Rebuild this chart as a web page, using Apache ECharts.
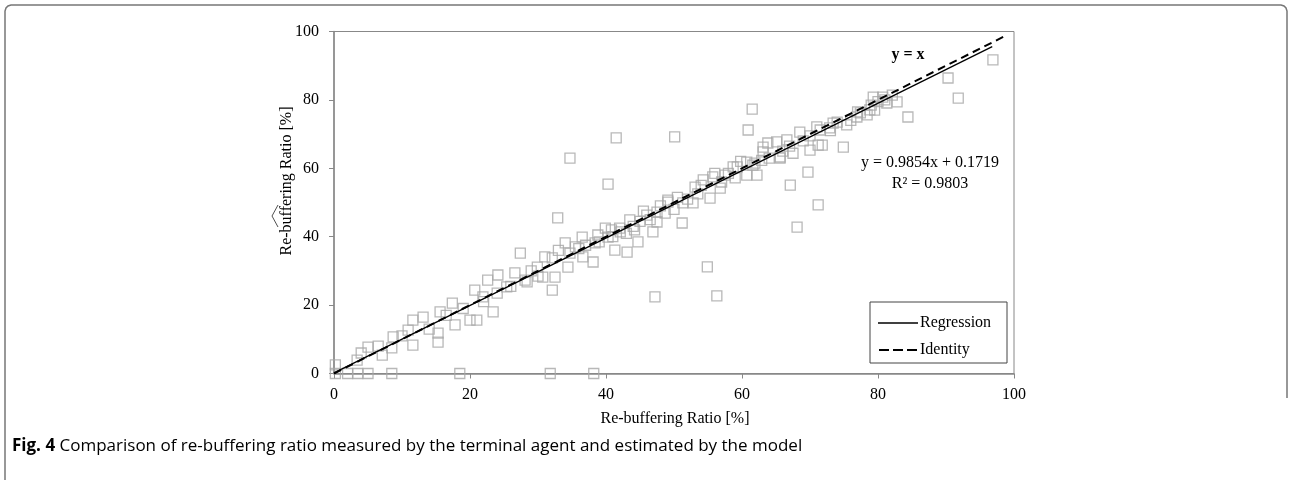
<!DOCTYPE html>
<html>
<head>
<meta charset="utf-8">
<script src="https://cdn.jsdelivr.net/npm/echarts@6/dist/echarts.min.js"></script>
<style>html,body{margin:0;padding:0;background:#fff;}#c{width:1291px;height:480px;}</style>
</head>
<body>
<div id="c"></div>
<script>
// Measured vs estimated re-buffering ratio [%] : [x, y]
const measuredEstimated = [
  [0.2,0],[2,0],[3.5,0],[5,0],[8.5,0],[18.5,0],[31.8,0],[38.2,0],[0.2,2.5],
  [3.4,3.9],[5,7.7],[7.1,5.4],[8.7,10.7],[8.5,7.5],[10.9,12.7],[11.6,8.3],[11.6,15.6],
  [13.1,16.5],[15.3,11.8],[15.3,9.2],[15.6,18],[17.4,20.6],[17.8,14.2],[20,15.6],
  [20.7,24.4],[21,15.6],[21.9,22.4],[23.4,18],[22.6,27.3],[24.1,28.8],[25.4,25.3],
  [26.6,29.4],[28.1,27.3],[4,6],[6.5,8],[10,11],[14,13],[16.5,17],[19,19],[22,21],
  [24,23.5],[26,25.5],[29,30],[30,28.5],
  [28.4,26.8],[29.9,31.1],[31,34.1],[30.7,28.2],[32.5,28.2],[32.1,33.8],[34.4,31.1],
  [34.7,35.2],[34,38.2],[36.5,39.9],[36.6,34.1],[38.1,32.6],[38.4,38.2],[39.9,42.5],
  [40.3,39.9],[41.3,36.1],[42.1,41.4],[43.1,35.5],[43.5,44.9],[44.7,38.5],[46,46.3],
  [46.9,41.4],[47.5,47.2],[49.1,50.1],[48.7,46.9],[51.3,49.9],[52.8,49.9],[53.1,54.5],
  [54.3,56.6],[55.3,51.3],[55.7,57.5],[56.8,54.2],[58.7,60.4],[59,57.2],[60.7,61.8],
  [61.6,60.9],[63.1,66.2],[62.2,58],
  [47.5,44.3],[49.1,50.7],[59.3,60.4],[60.7,58],[61.9,61.5],[63.1,64.8],[63.8,67.4],
  [65.1,67.7],[65.6,63.3],[66.6,68.3],[68.5,70.6],[70,65.3],[71.8,66.8],[71,72.1],
  [73.4,73.2],[75.4,72.7],[76.9,75],[78.8,77.1],[81.3,79.1],[82.1,81.4],[80.7,80.8],
  [79.3,80.8],[82.8,79.4],[77.4,76.2],[78.4,75.6],[72.9,71.8],[71.5,71.2],[71.2,66.8],
  [67.5,64.4],[62.9,62.3],[65.6,63],
  [44,43],[45,44.5],[46.5,45],[50,48],[52,51],[53.5,52.5],[57,56],[58,58.5],[64,63],
  [66,65],[67,66.5],[69,68],[70,69.5],[73,71],[74,73.5],[76,74],[77,76.5],[79,78.5],
  [80,79.5],[81,80],[79.5,77],[36,36.5],[37,37.5],[39,38.5],[41,40],[42,42.5],[43,41],
  [33,36],[35.5,37],[38.8,40.5],[40.8,42],[44.2,42],[45.5,47.5],[48,49],[50.5,51.5],
  [54,55],[56,58.5],[57.5,58],[59.8,62],
  [61.5,77.3],[60.9,71.2],[41.5,68.9],[50.1,69.2],[34.7,63],[40.3,55.4],[32.9,45.5],
  [51.2,44],[54.9,31.2],[56.3,22.7],[47.2,22.4],[32.1,24.4],[27.4,35.2],[74.9,66.2],
  [69.7,58.9],[67.1,55.1],[71.2,49.3],[68.1,42.8],[96.9,91.7],[90.3,86.4],[91.8,80.5],
  [84.4,75]
];
// Regression y = 0.9854x + 0.1719 and identity y = x (end points)
const regressionLine = [[0,0.1719],[96.8,95.56]];
const identityLine = [[0,0],[99,99]];
const xTicks = [0,20,40,60,80,100];
const yTicks = [0,20,40,60,80,100];
const xTitle = 'Re-buffering Ratio [%]';
const yTitle = 'Re-buffering Ratio [%]';
const eqText = 'y = 0.9854x + 0.1719';
const r2Text = 'R² = 0.9803';
const identityText = 'y = x';
const legendNames = ['Regression','Identity'];
const captionBold = 'Fig. 4';
const captionText = ' Comparison of re-buffering ratio measured by the terminal agent and estimated by the model';

const serif = '"Liberation Serif","Times New Roman",serif';
const chart = echarts.init(document.getElementById('c'), null, {renderer:'canvas'});
const axisGray = '#888888';
chart.setOption({
  animation:false,
  grid:{left:334,right:277,top:31.5,bottom:106.5,show:true,borderColor:axisGray,borderWidth:1,containLabel:false},
  xAxis:{type:'value',min:0,max:100,interval:20,
    axisLine:{show:true,onZero:false,lineStyle:{color:axisGray,width:1.5}},
    axisTick:{show:true,inside:false,length:5,lineStyle:{color:axisGray}},
    splitLine:{show:false},
    axisLabel:{color:'#000',fontFamily:serif,fontSize:16,margin:13,formatter:v=>xTicks.includes(v)?String(v):''}},
  yAxis:{type:'value',min:0,max:100,interval:20,
    axisLine:{show:true,onZero:false,lineStyle:{color:axisGray,width:1.5}},
    axisTick:{show:true,inside:false,length:5,lineStyle:{color:axisGray}},
    splitLine:{show:false},
    axisLabel:{color:'#000',fontFamily:serif,fontSize:16,margin:15,formatter:v=>yTicks.includes(v)?String(v):''}},
  series:[
    {type:'scatter',data:measuredEstimated,symbol:'rect',symbolSize:10,
     itemStyle:{color:'rgba(255,255,255,0)',borderColor:'#a6a6a6',borderWidth:1.3},z:2},
    {type:'line',name:legendNames[0],data:regressionLine,showSymbol:false,symbol:'none',
     lineStyle:{color:'#000',width:1.3,type:'solid'},z:3},
    {type:'line',name:legendNames[1],data:identityLine,showSymbol:false,symbol:'none',
     lineStyle:{color:'#000',width:2,type:[8,5]},z:3}
  ],
  graphic:[
    {type:'polyline',shape:{points:[[5,480],[5,11],[6,8],[8,6],[11,5],[1281,5],[1284,6],[1286,8],[1287,11],[1287,398]]},
     style:{fill:null,stroke:'#777',lineWidth:1.5},silent:true},
    {type:'text',x:675,y:419,style:{text:xTitle,font:'16px '+serif,fill:'#000',align:'center',verticalAlign:'middle'}},
    {type:'text',x:287,y:181,rotation:Math.PI/2,style:{text:yTitle,font:'16px '+serif,fill:'#000',align:'center',verticalAlign:'middle'}},
    {type:'polyline',shape:{points:[[278,227],[272,216],[278,205]]},style:{stroke:'#222',lineWidth:0.8,fill:null}},
    {type:'text',x:908,y:55,style:{text:identityText,font:'bold 16px '+serif,fill:'#000',align:'center',verticalAlign:'middle'}},
    {type:'text',x:930,y:163,style:{text:eqText,font:'16px '+serif,fill:'#000',align:'center',verticalAlign:'middle'}},
    {type:'text',x:930,y:184,style:{text:r2Text,font:'16px '+serif,fill:'#000',align:'center',verticalAlign:'middle'}},
    {type:'rect',shape:{x:870,y:302,width:137,height:61},style:{fill:'#fff',stroke:'#444',lineWidth:1},z:10},
    {type:'line',shape:{x1:878,y1:323,x2:918,y2:323},style:{stroke:'#000',lineWidth:1.3},z:11},
    {type:'text',x:920,y:323,style:{text:legendNames[0],font:'16px '+serif,fill:'#000',align:'left',verticalAlign:'middle'},z:11},
    {type:'line',shape:{x1:879,y1:350,x2:917,y2:350},style:{stroke:'#000',lineWidth:2,lineDash:[10,4]},z:11},
    {type:'text',x:920,y:350,style:{text:legendNames[1],font:'16px '+serif,fill:'#000',align:'left',verticalAlign:'middle'},z:11},
    {type:'text',x:12,y:446,style:{text:'{b|'+captionBold+'}{r|'+captionText+'}',
      rich:{b:{fontFamily:'"Open Sans",sans-serif',fontWeight:'bold',fontSize:17,fill:'#000'},r:{fontFamily:'"Open Sans",sans-serif',fontSize:17,fill:'#000'}},
      verticalAlign:'middle'}}
  ]
});
</script>
</body>
</html>
